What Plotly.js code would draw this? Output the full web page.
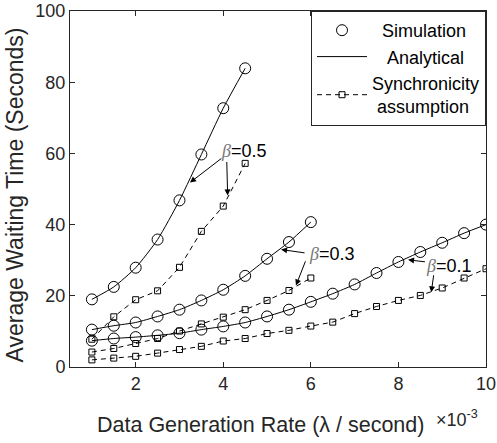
<!DOCTYPE html>
<html>
<head>
<meta charset="utf-8">
<script src="https://cdn.plot.ly/plotly-3.0.1.min.js"></script>
<style>html,body{margin:0;padding:0;background:#fff;}#chart{width:497px;height:443px;}</style>
</head>
<body>
<div id="chart"></div>
<script>
// x values (×10^-3 per second)
var x05 = [1, 1.5, 2, 2.5, 3, 3.5, 4, 4.5];
var x03 = [1, 1.5, 2, 2.5, 3, 3.5, 4, 4.5, 5, 5.5, 6];
var x01 = [1, 1.5, 2, 2.5, 3, 3.5, 4, 4.5, 5, 5.5, 6, 6.5, 7, 7.5, 8, 8.5, 9, 9.5, 10];

// beta = 0.5
var sim05  = [19.0, 22.5, 27.9, 35.8, 46.8, 59.7, 72.7, 83.9];
var ana05  = [19.0, 22.5, 27.9, 35.8, 46.8, 59.7, 72.7, 83.9];
var sync05 = [7.8, 14.1, 18.9, 21.4, 28.0, 38.1, 45.2, 57.2];

// beta = 0.3
var sim03  = [10.5, 11.6, 12.5, 14.2, 16.1, 18.7, 21.7, 25.6, 30.4, 35.1, 40.7];
var ana03  = [10.5, 11.6, 12.5, 14.2, 16.1, 18.7, 21.7, 25.6, 30.4, 35.1, 40.7];
var sync03 = [4.2, 5.2, 6.6, 8.0, 10.1, 12.1, 14.0, 16.1, 18.7, 21.5, 25.0];

// beta = 0.1
var sim01  = [7.4, 8.0, 8.4, 8.9, 9.5, 10.5, 11.4, 12.5, 14.2, 16.1, 18.3, 20.6, 23.2, 26.4, 29.5, 32.3, 34.9, 37.6, 40.0];
var ana01  = [7.4, 8.0, 8.4, 8.9, 9.5, 10.5, 11.4, 12.5, 14.2, 16.1, 18.3, 20.6, 23.2, 26.4, 29.5, 32.3, 34.9, 37.6, 40.0];
var sync01 = [2.0, 2.5, 3.0, 3.9, 4.9, 5.8, 7.3, 8.0, 9.4, 10.3, 11.5, 12.6, 15.0, 17.0, 18.7, 20.1, 22.2, 25.0, 27.6];

var xTicks = [2, 4, 6, 8, 10];
var yTicks = [0, 20, 40, 60, 80, 100];
var legendNames = ['\u00a0\u00a0Simulation', '\u00a0\u00a0\u00a0Analytical', 'Synchronicity<br>\u00a0assumption'];
var xTitle = 'Data Generation Rate (\u03bb / second)';
var yTitle = 'Average Waiting Time (Seconds)';

var ink = '#262626';
var FONT = 'Liberation Sans, Arial, Helvetica, sans-serif';

function sim(x, y, show) {
  return {x: x, y: y, type: 'scatter', mode: 'markers', name: legendNames[0],
    showlegend: show, legendrank: 1,
    marker: {symbol: 'circle-open', size: 11, color: '#000', line: {width: 1, color: '#000'}}};
}
function ana(x, y, show) {
  return {x: x, y: y, type: 'scatter', mode: 'lines', name: legendNames[1],
    showlegend: show, legendrank: 2,
    line: {color: '#000', width: 1, shape: 'spline', smoothing: 0.6}};
}
function syn(x, y, show) {
  return {x: x, y: y, type: 'scatter', mode: 'lines+markers', name: legendNames[2],
    showlegend: show, legendrank: 3,
    line: {color: '#000', width: 1, dash: '5px,4px'},
    marker: {symbol: 'square-open', size: 6, color: '#000', line: {width: 1, color: '#000'}}};
}

var data = [
  ana(x05, ana05, true), ana(x03, ana03, false), ana(x01, ana01, false),
  syn(x05, sync05, true), syn(x03, sync03, false), syn(x01, sync01, false),
  sim(x05, sim05, true), sim(x03, sim03, false), sim(x01, sim01, false)
];

var betaTxt = function (v) {
  return '<span style="font-family:Liberation Serif;color:#777"><i>\u03b2</i></span>=' + v;
};
function arrow(hx, hy, tx, ty) {
  return {x: hx, y: hy, ax: tx, ay: ty, xref: 'x', yref: 'y', axref: 'x', ayref: 'y',
    text: '', showarrow: true, arrowhead: 2, arrowsize: 1.2, arrowwidth: 1, arrowcolor: '#000', standoff: 0, startstandoff: 0};
}
function label(x, y, v) {
  return {x: x, y: y, xref: 'x', yref: 'y', text: betaTxt(v), showarrow: false,
    font: {family: FONT, size: 18, color: '#000'}, xanchor: 'center', yanchor: 'middle'};
}

var annotations = [
  label(4.48, 60.8, '0.5'),
  arrow(3.24, 51.8, 3.99, 58.9),
  arrow(4.10, 48.2, 4.08, 58.0),
  label(6.49, 31.8, '0.3'),
  arrow(5.32, 33.0, 5.89, 32.0),
  arrow(5.66, 22.9, 5.89, 30.1),
  label(9.15, 28.5, '0.1'),
  arrow(8.22, 30.1, 8.64, 29.5),
  arrow(8.75, 21.0, 8.81, 26.2),
  {x: 0.458, y: -0.163, xref: 'paper', yref: 'paper', xanchor: 'center', yanchor: 'middle',
   text: xTitle, showarrow: false, font: {family: FONT, size: 21.5, color: ink}},
  {x: -0.13, y: 0.4846, xref: 'paper', yref: 'paper', xanchor: 'center', yanchor: 'middle',
   textangle: -90, text: yTitle, showarrow: false, font: {family: FONT, size: 23, color: ink}},
  {x: 0.875, y: -0.145, xref: 'paper', yref: 'paper', xanchor: 'left', yanchor: 'middle',
   text: '\u00d710<sup>-3</sup>', showarrow: false, font: {family: FONT, size: 18, color: ink}}
];

var layout = {
  width: 497, height: 443,
  margin: {l: 70, r: 11, t: 11, b: 76},
  paper_bgcolor: '#fff', plot_bgcolor: '#fff',
  font: {family: FONT, size: 17, color: ink},
  showlegend: true,
  legend: {x: 1, xanchor: 'right', y: 1, yanchor: 'top', bgcolor: '#fff',
    bordercolor: ink, borderwidth: 1, font: {family: FONT, size: 18, color: '#000'},
    traceorder: 'normal', itemwidth: 50},
  xaxis: {range: [0.5, 10], tickvals: xTicks, ticktext: xTicks.map(String),
    ticks: 'inside', ticklen: 5, tickcolor: ink, showline: true, linecolor: ink, linewidth: 1,
    mirror: 'ticks', showgrid: false, zeroline: false,
    tickfont: {family: FONT, size: 18, color: ink}},
  yaxis: {range: [0, 100], tickvals: yTicks, ticktext: yTicks.map(String),
    ticks: 'inside', ticklen: 5, tickcolor: ink, showline: true, linecolor: ink, linewidth: 1,
    mirror: 'ticks', showgrid: false, zeroline: false,
    tickfont: {family: FONT, size: 18, color: ink}},
  annotations: annotations
};

Plotly.newPlot('chart', data, layout, {displayModeBar: false, staticPlot: true});
</script>
</body>
</html>
